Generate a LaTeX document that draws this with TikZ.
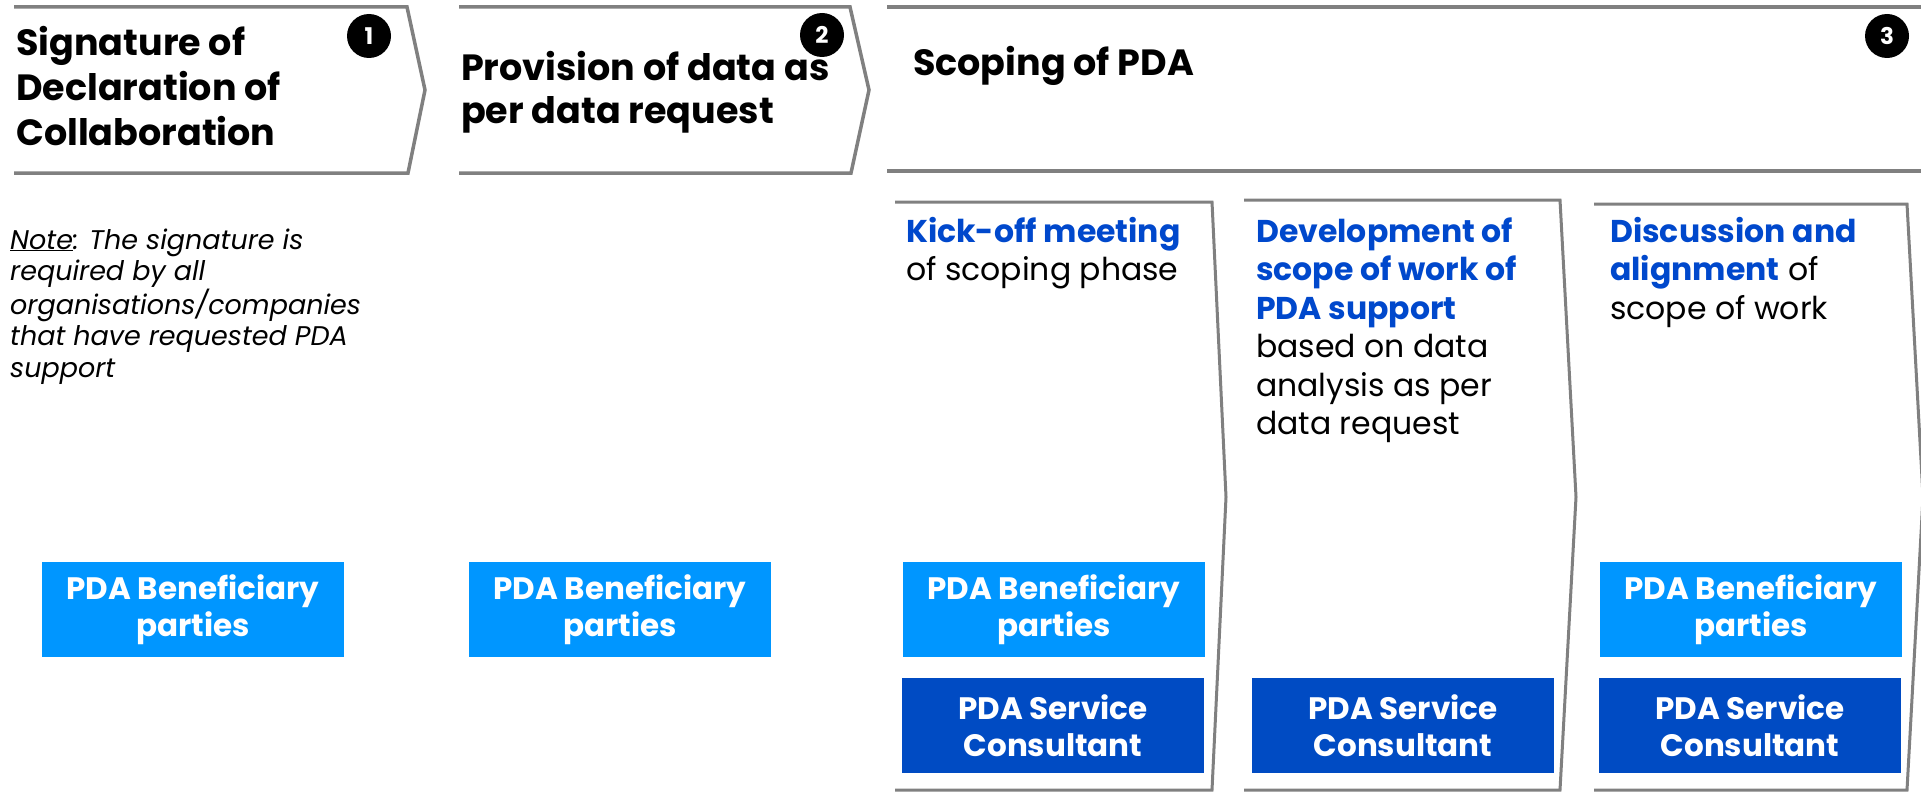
\documentclass[tikz,border=0pt]{standalone}
\usepackage{fontspec}
\setmainfont{Poppins}
\definecolor{lightbox}{RGB}{0,150,255}
\definecolor{darkbox}{RGB}{0,75,195}
\definecolor{headblue}{RGB}{0,72,204}
\definecolor{linegray}{RGB}{128,128,128}
\tikzset{
  frame/.style={draw=linegray, line width=3.5pt, line join=miter},
  panelframe/.style={draw=linegray, line width=3pt, line join=miter},
  badge/.style={circle, fill=black, minimum size=44pt, inner sep=0pt, text=white,
    font=\bfseries\fontsize{23}{23}\selectfont},
  titletext/.style={anchor=base west, align=left, inner sep=0pt,
    font=\bfseries\fontsize{36.5}{42.3}\selectfont},
  paneltext/.style={anchor=base west, align=left, inner sep=0pt,
    font=\fontsize{31.5}{38.5}\selectfont},
  notetext/.style={anchor=base west, align=left, inner sep=0pt,
    font=\itshape\fontsize{27}{31.5}\selectfont},
  rolebox/.style={minimum width=302pt, minimum height=95pt, inner sep=0pt,
    align=center, text=white, font=\bfseries\fontsize{31}{37}\selectfont},
  benef/.style={rolebox, fill=lightbox},
  consult/.style={rolebox, fill=darkbox},
}
\newcommand{\hl}[1]{{\bfseries\color{headblue}#1}}
\begin{document}
\begin{tikzpicture}[x=1pt,y=-1pt]
\useasboundingbox (0,0) rectangle (1921,792);
% top chevrons
\draw[frame] (14,7) -- (407,7) -- (425,90) -- (408,173) -- (14,173);
\draw[frame] (459,7) -- (850,7) -- (869,90) -- (851,173) -- (459,173);
\draw[frame] (887,7) -- (1925,7);
\draw[frame] (887,171) -- (1925,171);
% titles
\node[titletext, font=\bfseries\fontsize{36.5}{44.7}\selectfont] (t1) at (16,145) {Signature of\\Declaration of\\Collaboration};
\node[titletext] (t2) at (461,123) {Provision of data as\\per data request};
\node[titletext] (t3) at (913,75) {Scoping of PDA};
% badges
\node[badge] (b1) at (369,36) {1};
\node[badge] (b2) at (822,35) {2};
\node[badge] (b3) at (1887,36) {3};
% note
\node[notetext] (note) at (10,377) {\underline{Note}: The signature is\\required by all\\organisations/companies\\that have requested PDA\\support};
% inner panels
\draw[panelframe] (895,202) -- (1212,202) -- (1226,497) -- (1212,790) -- (895,790);
\draw[panelframe] (1244,200) -- (1560,200) -- (1576,497) -- (1560,790) -- (1244,790);
\draw[panelframe] (1594,204) -- (1907,204) -- (1923,497) -- (1907,790) -- (1594,790);
\node[paneltext] (pa) at (906,280.5) {\hl{Kick-off meeting}\\of scoping phase};
\node[paneltext] (pb) at (1256,434.5) {\hl{Development of}\\\hl{scope of work of}\\\hl{PDA support}\\based on data\\analysis as per\\data request};
\node[paneltext] (pc) at (1610,319) {\hl{Discussion and}\\\hl{alignment} of\\scope of work};
% role boxes
\node[benef] (r1) at (193,609.5) {PDA Beneficiary\\parties};
\node[benef] (r2) at (620,609.5) {PDA Beneficiary\\parties};
\node[benef] (r3) at (1054,609.5) {PDA Beneficiary\\parties};
\node[consult] (s3) at (1053,725.5) {PDA Service\\Consultant};
\node[consult] (s4) at (1403,725.5) {PDA Service\\Consultant};
\node[benef] (r5) at (1751,609.5) {PDA Beneficiary\\parties};
\node[consult] (s5) at (1750,725.5) {PDA Service\\Consultant};
\end{tikzpicture}
\end{document}
